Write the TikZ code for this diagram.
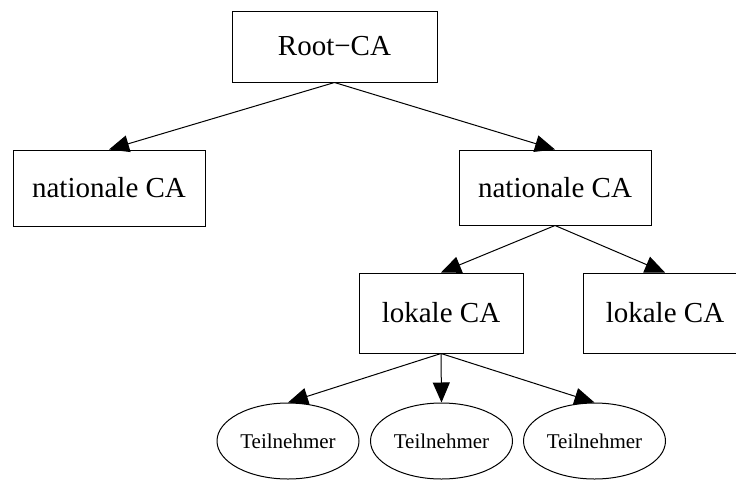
\documentclass[tikz,border=0pt]{standalone}
\usepackage{fontspec}
\setmainfont{Liberation Serif}
\usetikzlibrary{arrows.meta,shapes.geometric}
\begin{document}
\begin{tikzpicture}[x=1pt,y=-1pt,
  every node/.style={inner sep=0pt},
  box/.style={draw, line width=1pt, rectangle, font=\fontsize{29}{34}\selectfont},
  member/.style={draw, line width=1pt, ellipse, minimum width=142pt, minimum height=76pt,
                 font=\fontsize{21}{25}\selectfont},
  link/.style={draw, line width=1pt, -{Triangle[length=20pt,width=17pt]}}
]
\clip (0,0) rectangle (736,480);

% certificate authorities
\node[box, minimum width=205pt, minimum height=71pt] (root) at (334.5,46.5) {Root−CA};
\node[box, minimum width=192pt, minimum height=76pt] (natL) at (109,188) {nationale CA};
\node[box, minimum width=192pt, minimum height=75pt] (natR) at (555,187.5) {nationale CA};
\node[box, minimum width=164pt, minimum height=80pt] (lokL) at (441,313) {lokale CA};
\node[box, minimum width=164pt, minimum height=80pt] (lokR) at (665,313) {lokale CA};

% participants
\node[member] (t1) at (288,441) {Teilnehmer};
\node[member] (t2) at (441.5,441) {Teilnehmer};
\node[member] (t3) at (594.5,441) {Teilnehmer};

% hierarchy
\draw[link] (root.south) -- (natL.north);
\draw[link] (root.south) -- (natR.north);
\draw[link] (natR.south) -- (lokL.north);
\draw[link] (natR.south) -- (lokR.north);
\draw[link] (lokL.south) -- (t1.north);
\draw[link] (lokL.south) -- (t2.north);
\draw[link] (lokL.south) -- (t3.north);
\end{tikzpicture}
\end{document}
